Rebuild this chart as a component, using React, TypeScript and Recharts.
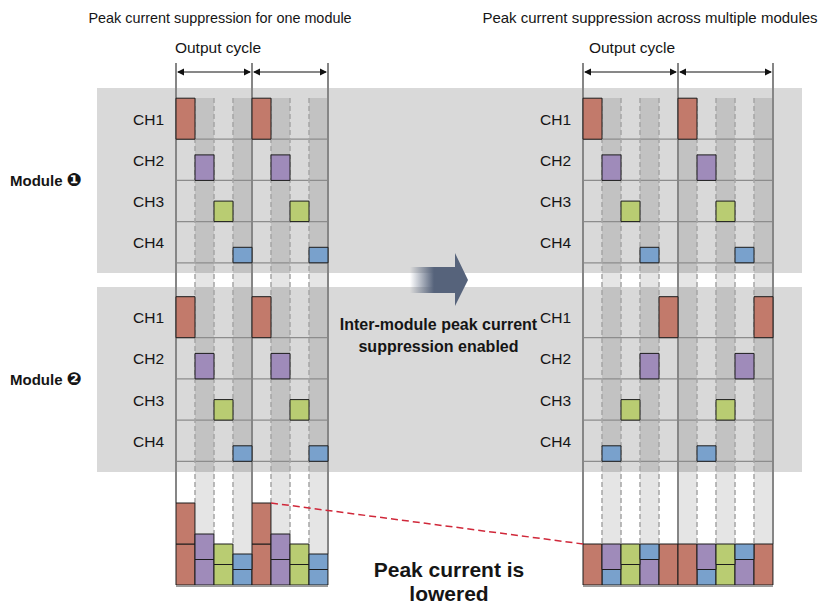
import React from 'react';
import { ComposedChart, XAxis, YAxis, Bar, Cell, ReferenceArea, ReferenceLine } from 'recharts';

// ---------- data ----------
const CHANNELS = ['CH1', 'CH2', 'CH3', 'CH4'];
const CH_CURRENT = [41, 25.5, 20.5, 15.5]; // relative peak current of each channel
const CH_COLORS = ['#c27a6b', '#9f8bba', '#b9cc72', '#79a1cc'];
const MODULE_NAME = 'Module';
const MODULE_MARKS = ['\u2776', '\u2777'];
const TITLES = ['Peak current suppression for one module', 'Peak current suppression across multiple modules'];
const CYCLE_LABEL = 'Output cycle';
const MIDDLE_TEXT = ['Inter-module peak current', 'suppression enabled'];
const RESULT_TEXT = ['Peak current is', 'lowered'];
// slot indices in which each channel (CH1..CH4) is switched on
const ONE_MODULE_M1 = [[0, 4], [1, 5], [2, 6], [3, 7]];
const ONE_MODULE_M2 = [[0, 4], [1, 5], [2, 6], [3, 7]];
const MULTI_MODULE_M1 = [[0, 5], [1, 6], [2, 7], [3, 8]];
const MULTI_MODULE_M2 = [[4, 9], [3, 8], [2, 7], [1, 6]];

// ---------- layout ----------
const W = 839;
const H = 605;
const BASE = 585;
const SLOT = 19;
const ROW_H = 41.2;
const COL_TOP = 98;
const BAND_X: [number, number] = [97, 802];
const BANDS = [
  { top: 88, bottom: 273, rowTop: 98 },
  { top: 287, bottom: 472, rowTop: 296.5 },
];
const PANELS = [
  { origin: 176, slots: 8, cycle: 4, schedule: [ONE_MODULE_M1, ONE_MODULE_M2], title: TITLES[0], titleX: 220, titleSize: 14.4, cycleX: 218 },
  { origin: 583, slots: 10, cycle: 5, schedule: [MULTI_MODULE_M1, MULTI_MODULE_M2], title: TITLES[1], titleX: 650, titleSize: 15, cycleX: 632 },
];
const FONT = '"Liberation Sans", Arial, Helvetica, "DejaVu Sans", sans-serif';

const y = (px: number) => BASE - px;
const chAt = (sched: number[][], k: number) => sched.findIndex((s) => s.includes(k));

const panelSlots = PANELS.map((p) =>
  Array.from({ length: p.slots }, (_, k) => {
    const c1 = chAt(p.schedule[0], k);
    const c2 = chAt(p.schedule[1], k);
    return {
      x: p.origin + SLOT * k + SLOT / 2,
      m1: c1 >= 0 ? CH_CURRENT[c1] : 0,
      m2: c2 >= 0 ? CH_CURRENT[c2] : 0,
      c1,
      c2,
    };
  })
);
const barData = panelSlots.flat();

// top of the stacked bars next to a slot boundary k of panel pi
const stackTopAt = (pi: number, k: number) => {
  const s = panelSlots[pi];
  const tot = (i: number) => (i >= 0 && i < s.length ? s[i].m1 + s[i].m2 : 0);
  return Math.max(tot(k - 1), tot(k));
};

const ArrowShape = (props: any) => {
  const { x1, y1, x2, y2 } = props;
  const L = 7;
  const h = 3.5;
  return (
    <g>
      <line x1={x1 + 2} y1={y1} x2={x2 - 2} y2={y2} stroke="#111" strokeWidth={1} />
      <polygon points={`${x1 + 1},${y1} ${x1 + 1 + L},${y1 - h} ${x1 + 1 + L},${y1 + h}`} fill="#111" />
      <polygon points={`${x2 - 1},${y2} ${x2 - 1 - L},${y2 - h} ${x2 - 1 - L},${y2 + h}`} fill="#111" />
    </g>
  );
};

export default function App() {
  const bands = BANDS.map((b, i) => (
    <ReferenceArea key={`band${i}`} x1={BAND_X[0]} x2={BAND_X[1]} y1={y(b.bottom)} y2={y(b.top)}
      fill="#d9d9d9" fillOpacity={1} stroke="none" zIndex={-30} />
  ));

  const columns = PANELS.flatMap((p, pi) =>
    Array.from({ length: p.slots }, (_, k) => k)
      .filter((k) => k % 2 === 1)
      .map((k) => (
        <ReferenceArea key={`col${pi}-${k}`} x1={p.origin + SLOT * k} x2={p.origin + SLOT * (k + 1)}
          y1={y(BASE)} y2={y(COL_TOP)} fill="#000" fillOpacity={0.1} stroke="none" zIndex={-20} />
      ))
  );

  const rowLines = PANELS.flatMap((p, pi) =>
    BANDS.flatMap((b, bi) =>
      CHANNELS.map((_, c) => {
        const py = y(b.rowTop + (c + 1) * ROW_H);
        return (
          <ReferenceLine key={`row${pi}-${bi}-${c}`}
            segment={[{ x: p.origin, y: py }, { x: p.origin + SLOT * p.slots, y: py }]}
            stroke="#8c8c8c" strokeWidth={1.2} zIndex={-10} />
        );
      })
    )
  );

  const dashed = PANELS.flatMap((p, pi) =>
    Array.from({ length: p.slots - 1 }, (_, i) => i + 1)
      .filter((k) => k % p.cycle !== 0)
      .map((k) => (
        <ReferenceLine key={`dash${pi}-${k}`}
          segment={[{ x: p.origin + SLOT * k, y: y(COL_TOP) }, { x: p.origin + SLOT * k, y: stackTopAt(pi, k) }]}
          stroke="#a5a5a5" strokeWidth={1.5} strokeDasharray="5 3" zIndex={-10} />
      ))
  );

  const solid = PANELS.flatMap((p, pi) =>
    [0, p.cycle, p.slots].map((k) => (
      <ReferenceLine key={`solid${pi}-${k}`}
        segment={[{ x: p.origin + SLOT * k, y: y(63) }, { x: p.origin + SLOT * k, y: stackTopAt(pi, k) }]}
        stroke="#868686" strokeWidth={2} zIndex={-10} />
    ))
  );

  const arrows = PANELS.flatMap((p, pi) =>
    [0, p.cycle].map((k) => (
      <ReferenceLine key={`arrow${pi}-${k}`}
        segment={[{ x: p.origin + SLOT * k, y: y(72) }, { x: p.origin + SLOT * (k + p.cycle), y: y(72) }]}
        stroke="#111" shape={ArrowShape} />
    ))
  );

  const blocks = PANELS.flatMap((p, pi) =>
    BANDS.flatMap((b, mi) =>
      p.schedule[mi].flatMap((slots, c) =>
        slots.map((s) => {
          const bottom = y(b.rowTop + (c + 1) * ROW_H);
          return (
            <ReferenceArea key={`blk${pi}-${mi}-${c}-${s}`} x1={p.origin + SLOT * s} x2={p.origin + SLOT * (s + 1)}
              y1={bottom} y2={bottom + CH_CURRENT[c]} fill={CH_COLORS[c]} fillOpacity={1}
              stroke="#1c1c1c" strokeWidth={1} />
          );
        })
      )
    )
  );

  const baselines = PANELS.map((p, pi) => (
    <ReferenceLine key={`base${pi}`}
      segment={[{ x: p.origin, y: y(BASE + 1) }, { x: p.origin + SLOT * p.slots, y: y(BASE + 1) }]}
      stroke="#9a9a9a" strokeWidth={2} />
  ));

  const left = PANELS[0];
  const right = PANELS[1];
  const peakLine = (
    <ReferenceLine
      segment={[
        { x: left.origin + SLOT * (left.cycle + 1), y: stackTopAt(0, left.cycle + 1) },
        { x: right.origin, y: stackTopAt(1, 0) },
      ]}
      stroke="#d0283a" strokeWidth={1.5} strokeDasharray="7 4" />
  );

  const BAR_W = SLOT - 0.05;

  return (
    <div style={{ position: 'absolute', left: 0, top: 0, width: W, height: H, background: '#fff' }}>
      <ComposedChart width={W} height={H} data={barData} margin={{ top: 0, right: 0, bottom: 0, left: 0 }}>
        <defs>
          <linearGradient id="midArrow" gradientUnits="userSpaceOnUse" x1={410} y1={0} x2={434} y2={0}>
            <stop offset="0" stopColor="#56637b" stopOpacity={0} />
            <stop offset="1" stopColor="#56637b" stopOpacity={1} />
          </linearGradient>
        </defs>
        <XAxis type="number" dataKey="x" domain={[0, W]} hide allowDataOverflow />
        <YAxis type="number" domain={[y(H), y(0)]} hide allowDataOverflow />
        {bands}
        {columns}
        {rowLines}
        {dashed}
        {solid}
        {arrows}
        {blocks}
        <Bar dataKey="m2" stackId="s" barSize={BAR_W} stroke="#1c1c1c" strokeWidth={1} isAnimationActive={false}>
          {barData.map((d, i) => (
            <Cell key={`m2-${i}`} fill={d.c2 >= 0 ? CH_COLORS[d.c2] : 'none'} />
          ))}
        </Bar>
        <Bar dataKey="m1" stackId="s" barSize={BAR_W} stroke="#1c1c1c" strokeWidth={1} isAnimationActive={false}>
          {barData.map((d, i) => (
            <Cell key={`m1-${i}`} fill={d.c1 >= 0 ? CH_COLORS[d.c1] : 'none'} />
          ))}
        </Bar>
        {baselines}
        {peakLine}
        <g fontFamily={FONT} fill="#151515">
          {PANELS.map((p, pi) => (
            <g key={`txt${pi}`}>
              <text x={p.titleX} y={23} fontSize={p.titleSize} textAnchor="middle">{p.title}</text>
              <text x={p.cycleX} y={53} fontSize={15.5} textAnchor="middle">{CYCLE_LABEL}</text>
              {BANDS.map((b, bi) =>
                CHANNELS.map((ch, c) => (
                  <text key={`ch${bi}-${c}`} x={p.origin - 43} y={b.rowTop + c * ROW_H + ROW_H / 2 + 6} fontSize={15.5}>
                    {ch}
                  </text>
                ))
              )}
            </g>
          ))}
          {BANDS.map((b, bi) => (
            <text key={`mod${bi}`} x={10} y={b.rowTop + 2 * ROW_H + 6} fontSize={15} fontWeight="bold">
              {MODULE_NAME}
              <tspan dx={4} fontSize={18} fontFamily='"DejaVu Sans", sans-serif'>{MODULE_MARKS[bi]}</tspan>
            </text>
          ))}
          {MIDDLE_TEXT.map((t, i) => (
            <text key={`mid${i}`} x={438.5} y={330 + i * 22} fontSize={16} fontWeight="bold" textAnchor="middle">{t}</text>
          ))}
          {RESULT_TEXT.map((t, i) => (
            <text key={`res${i}`} x={449} y={577 + i * 24} fontSize={21} fontWeight="bold" textAnchor="middle">{t}</text>
          ))}
        </g>
        <path d="M410,267 L455,267 L455,253 L468,280 L455,306 L455,293 L410,293 Z" fill="url(#midArrow)" />
      </ComposedChart>
    </div>
  );
}
